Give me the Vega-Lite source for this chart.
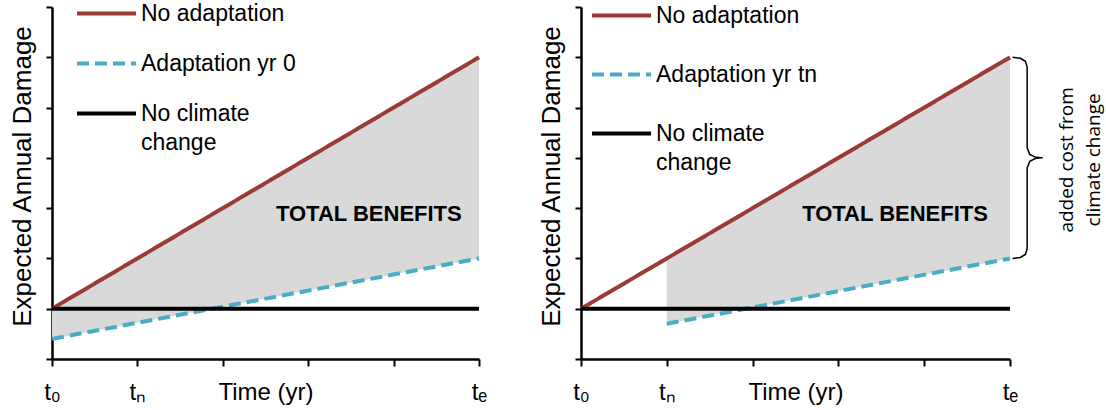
{
  "$schema": "https://vega.github.io/schema/vega-lite/v6.json",
  "background": "white",
  "padding": {"left": 9, "top": -18, "right": 5, "bottom": 5},
  "spacing": 51,
  "resolve": {
    "scale": {"color": "independent", "strokeDash": "independent"},
    "legend": {"color": "independent", "strokeDash": "independent"}
  },
  "config": {
    "view": {"stroke": null},
    "font": "Liberation Sans",
    "axis": {
      "grid": false,
      "domainColor": "black",
      "domainWidth": 2.5,
      "tickColor": "black",
      "tickWidth": 2,
      "labelColor": "black",
      "titleColor": "black",
      "titleFont": "Liberation Sans",
      "labelFont": "Liberation Sans",
      "titleFontWeight": "normal"
    }
  },
  "datasets": {
    "leftLines": [
      {"series": "No adaptation", "t": 0, "v": 1},
      {"series": "No adaptation", "t": 5, "v": 6},
      {"series": "Adaptation yr 0", "t": 0, "v": 0.4},
      {"series": "Adaptation yr 0", "t": 5, "v": 2},
      {"series": "No climate change", "t": 0, "v": 1},
      {"series": "No climate change", "t": 5, "v": 1}
    ],
    "rightLines": [
      {"series": "No adaptation", "t": 0, "v": 1},
      {"series": "No adaptation", "t": 1, "v": 2},
      {"series": "No adaptation", "t": 5, "v": 6},
      {"series": "Adaptation yr tn", "t": 1, "v": 0.7},
      {"series": "Adaptation yr tn", "t": 5, "v": 2},
      {"series": "No climate change", "t": 0, "v": 1},
      {"series": "No climate change", "t": 5, "v": 1}
    ],
    "brace": [
      {"k": 0, "bx": 5.03, "by": 6.0},
      {"k": 1, "bx": 5.12, "by": 5.98},
      {"k": 2, "bx": 5.18, "by": 5.92},
      {"k": 3, "bx": 5.2, "by": 5.8},
      {"k": 4, "bx": 5.2, "by": 4.2},
      {"k": 5, "bx": 5.23, "by": 4.07},
      {"k": 6, "bx": 5.3, "by": 4.01},
      {"k": 7, "bx": 5.38, "by": 4.0},
      {"k": 8, "bx": 5.3, "by": 3.99},
      {"k": 9, "bx": 5.23, "by": 3.93},
      {"k": 10, "bx": 5.2, "by": 3.8},
      {"k": 11, "bx": 5.2, "by": 2.2},
      {"k": 12, "bx": 5.18, "by": 2.08},
      {"k": 13, "bx": 5.12, "by": 2.02},
      {"k": 14, "bx": 5.03, "by": 2.0}
    ],
    "notes": [{"label": "TOTAL BENEFITS"}]
  },
  "hconcat": [
    {
      "width": 427,
      "height": 352,
      "layer": [
        {
          "data": {"name": "leftLines"},
          "transform": [
            {"pivot": "series", "value": "v", "groupby": ["t"]}
          ],
          "mark": {"type": "area", "color": "#D9D9D9", "opacity": 1},
          "encoding": {
            "x": {"field": "t", "type": "quantitative", "scale": {"domain": [0, 5], "nice": false, "zero": false},
              "axis": {"title": "Time (yr)", "values": [0, 1, 2, 3, 4, 5], "labelExpr": "datum.value == 0 ? 't₀' : datum.value == 1 ? 'tₙ' : datum.value == 5 ? 'tₑ' : ''", "tickSize": 7, "labelPadding": 14, "labelFontSize": 24, "titleFontSize": 24, "titleY": 40, "titleBaseline": "alphabetic", "labelFlush": false, "labelOverlap": false, "labelBound": false}},
            "y": {"field": "No adaptation", "type": "quantitative", "scale": {"domain": [0, 7], "nice": false, "zero": false},
              "axis": {"title": "Expected Annual Damage", "values": [0, 1, 2, 3, 4, 5, 6, 7], "labels": false, "tickSize": 6, "titleFontSize": 26, "titlePadding": 10, "titleY": 169}},
            "y2": {"field": "Adaptation yr 0"}
          }
        },
        {
          "data": {"name": "leftLines"},
          "mark": {"type": "line", "strokeWidth": 4, "strokeCap": "butt"},
          "encoding": {
            "x": {"field": "t", "type": "quantitative", "title": "Time (yr)"},
            "y": {"field": "v", "type": "quantitative", "title": "Expected Annual Damage"},
            "color": {"field": "series", "type": "nominal",
              "scale": {"domain": ["No adaptation", "Adaptation yr 0", "No climate change"], "range": ["#9B3B36", "#4BACC6", "#000000"]},
              "legend": {"title": null, "orient": "none", "legendX": 23, "legendY": -25, "padding": 0, "symbolType": "stroke", "symbolSize": 3481, "symbolStrokeWidth": 4, "labelFontSize": 23, "labelFont": "Liberation Sans", "labelColor": "black", "labelOffset": 3, "labelLimit": 0, "rowPadding": 6, "labelExpr": "datum.label == 'No climate change' ? ['No climate', 'change'] : datum.label", "encode": {"labels": {"update": {"lineHeight": {"value": 29}}}}}},
            "strokeDash": {"field": "series", "type": "nominal",
              "scale": {"domain": ["No adaptation", "Adaptation yr 0", "No climate change"], "range": [[1, 0], [12, 6], [1, 0]]},
              "legend": {"title": null, "orient": "none", "legendX": 23, "legendY": -25, "padding": 0, "symbolType": "stroke", "symbolSize": 3481, "symbolStrokeWidth": 4, "labelFontSize": 23, "labelFont": "Liberation Sans", "labelColor": "black", "labelOffset": 3, "labelLimit": 0, "rowPadding": 6, "labelExpr": "datum.label == 'No climate change' ? ['No climate', 'change'] : datum.label", "encode": {"labels": {"update": {"lineHeight": {"value": 29}}}}}}
          }
        },
        {
          "data": {"name": "notes"},
          "mark": {"type": "text", "font": "Liberation Sans", "fontWeight": "bold", "fontSize": 22, "color": "black", "align": "center", "baseline": "middle"},
          "encoding": {
            "text": {"field": "label"},
            "x": {"datum": 3.71, "type": "quantitative"},
            "y": {"datum": 2.88, "type": "quantitative"}
          }
        }
      ]
    },
    {
      "width": 429,
      "height": 352,
      "layer": [
        {
          "data": {"name": "rightLines"},
          "transform": [
            {"pivot": "series", "value": "v", "groupby": ["t"]},
            {"filter": "isValid(datum['Adaptation yr tn'])"}
          ],
          "mark": {"type": "area", "color": "#D9D9D9", "opacity": 1},
          "encoding": {
            "x": {"field": "t", "type": "quantitative", "scale": {"domain": [0, 5], "nice": false, "zero": false},
              "axis": {"title": "Time (yr)", "values": [0, 1, 2, 3, 4, 5], "labelExpr": "datum.value == 0 ? 't₀' : datum.value == 1 ? 'tₙ' : datum.value == 5 ? 'tₑ' : ''", "tickSize": 7, "labelPadding": 14, "labelFontSize": 24, "titleFontSize": 24, "titleY": 40, "titleBaseline": "alphabetic", "labelFlush": false, "labelOverlap": false, "labelBound": false}},
            "y": {"field": "No adaptation", "type": "quantitative", "scale": {"domain": [0, 7], "nice": false, "zero": false},
              "axis": {"title": "Expected Annual Damage", "values": [0, 1, 2, 3, 4, 5, 6, 7], "labels": false, "tickSize": 6, "titleFontSize": 26, "titlePadding": 10, "titleY": 169}},
            "y2": {"field": "Adaptation yr tn"}
          }
        },
        {
          "data": {"name": "rightLines"},
          "mark": {"type": "line", "strokeWidth": 4, "strokeCap": "butt"},
          "encoding": {
            "x": {"field": "t", "type": "quantitative", "title": "Time (yr)"},
            "y": {"field": "v", "type": "quantitative", "title": "Expected Annual Damage"},
            "color": {"field": "series", "type": "nominal",
              "scale": {"domain": ["No adaptation", "Adaptation yr tn", "No climate change"], "range": ["#9B3B36", "#4BACC6", "#000000"]},
              "legend": {"title": null, "orient": "none", "legendX": 9, "legendY": -23, "padding": 0, "symbolType": "stroke", "symbolSize": 3481, "symbolStrokeWidth": 4, "labelFontSize": 23, "labelFont": "Liberation Sans", "labelColor": "black", "labelOffset": 3, "labelLimit": 0, "rowPadding": 15, "labelExpr": "datum.label == 'No climate change' ? ['No climate', 'change'] : datum.label", "encode": {"labels": {"update": {"lineHeight": {"value": 29}}}}}},
            "strokeDash": {"field": "series", "type": "nominal",
              "scale": {"domain": ["No adaptation", "Adaptation yr tn", "No climate change"], "range": [[1, 0], [12, 6], [1, 0]]},
              "legend": {"title": null, "orient": "none", "legendX": 9, "legendY": -23, "padding": 0, "symbolType": "stroke", "symbolSize": 3481, "symbolStrokeWidth": 4, "labelFontSize": 23, "labelFont": "Liberation Sans", "labelColor": "black", "labelOffset": 3, "labelLimit": 0, "rowPadding": 15, "labelExpr": "datum.label == 'No climate change' ? ['No climate', 'change'] : datum.label", "encode": {"labels": {"update": {"lineHeight": {"value": 29}}}}}}
          }
        },
        {
          "data": {"name": "brace"},
          "mark": {"type": "line", "color": "black", "strokeWidth": 1.5},
          "encoding": {
            "x": {"field": "bx", "type": "quantitative"},
            "y": {"field": "by", "type": "quantitative"},
            "order": {"field": "k"}
          }
        },
        {
          "data": {"name": "notes"},
          "mark": {"type": "text", "font": "Liberation Sans", "fontWeight": "bold", "fontSize": 22, "color": "black", "align": "center", "baseline": "middle"},
          "encoding": {
            "text": {"field": "label"},
            "x": {"datum": 3.66, "type": "quantitative"},
            "y": {"datum": 2.88, "type": "quantitative"}
          }
        },
        {
          "data": {"name": "notes"},
          "mark": {"type": "text", "text": ["added cost from", "climate change"], "font": "Open Sans", "fontSize": 19, "lineHeight": 27, "color": "black", "align": "center", "baseline": "middle", "angle": 270},
          "encoding": {
            "x": {"datum": 5.66, "type": "quantitative"},
            "y": {"datum": 3.96, "type": "quantitative"}
          }
        }
      ]
    }
  ]
}
